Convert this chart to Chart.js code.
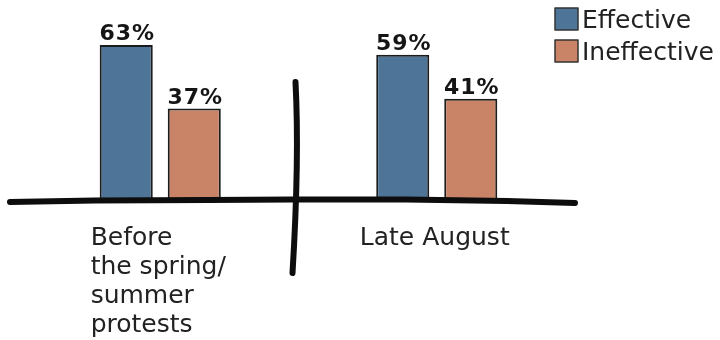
<!DOCTYPE html>
<html><head><meta charset="utf-8">
<script src="https://cdn.jsdelivr.net/npm/chart.js@4/dist/chart.umd.min.js"></script>
<style>html,body{margin:0;padding:0;background:#fff}#wrap{width:720px;height:340px;position:relative}</style>
</head><body><div id="wrap"><canvas id="c" width="720" height="340"></canvas></div>
<script>
const categories = [["Before", "the spring/", "summer", "protests"], ["Late August"]];
const seriesNames = ["Effective", "Ineffective"];
const effective = [63, 59];
const ineffective = [37, 41];
const valueSuffix = "%";
const seriesColors = ["#4e7597", "#c98468"];

const sketchPlugin = {
  id: 'sketch',
  afterDatasetsDraw(chart) {
    const { ctx, chartArea, scales: { x } } = chart;
    ctx.save();
    // value labels
    ctx.font = 'bold 22px "DejaVu Sans"';
    try { ctx.letterSpacing = '1px'; } catch (e) {}
    ctx.fillStyle = '#151515';
    ctx.textAlign = 'center';
    ctx.textBaseline = 'alphabetic';
    chart.data.datasets.forEach((ds, i) => {
      chart.getDatasetMeta(i).data.forEach((bar, j) => {
        ctx.fillText(ds.data[j] + valueSuffix, bar.x + 1, bar.y - 5);
      });
    });
    try { ctx.letterSpacing = '0px'; } catch (e) {}

    // hand-drawn baseline
    const yb = chartArea.bottom + 1;
    const L = chartArea.left - 12, R = chartArea.right;
    const w = R - L;
    const wob = [[0, 2], [0.15, 0.5], [0.35, 0], [0.5, -0.5], [0.7, -0.5], [0.88, 1], [1, 3]];
    ctx.strokeStyle = '#0d0d0d';
    ctx.lineWidth = 6;
    ctx.lineCap = 'round';
    ctx.lineJoin = 'round';
    ctx.beginPath();
    wob.forEach(([f, d], k) => {
      const px = L + f * w, py = yb + d;
      if (k === 0) ctx.moveTo(px, py); else ctx.lineTo(px, py);
    });
    ctx.stroke();

    // hand-drawn divider between categories
    const xm = (x.getPixelForValue(0) + x.getPixelForValue(1)) / 2 - 3;
    const top = chartArea.top + 54, bot = chartArea.bottom + 74;
    ctx.lineWidth = 6;
    ctx.beginPath();
    ctx.moveTo(xm, top);
    ctx.quadraticCurveTo(xm + 4, top + (bot - top) * 0.4, xm - 3, bot);
    ctx.stroke();

    // category labels (left-aligned blocks centred under each group)
    ctx.font = '25px "DejaVu Sans"';
    ctx.fillStyle = '#222';
    ctx.textAlign = 'left';
    const lh = 29;
    chart.data.labels.forEach((lab, i) => {
      const lines = Array.isArray(lab) ? lab : [lab];
      const cx = x.getPixelForValue(i);
      const mw = Math.max(...lines.map(s => ctx.measureText(s).width));
      const lx = cx - mw / 2 - 2;
      lines.forEach((s, k) => ctx.fillText(s, lx, chartArea.bottom + 46 + k * lh));
    });

    // legend
    const lgx = chart.width - 165, lgy = 8;
    chart.data.datasets.forEach((ds, i) => {
      const by = lgy + i * 32;
      ctx.fillStyle = ds.backgroundColor;
      ctx.fillRect(lgx, by, 23, 22);
      ctx.strokeStyle = '#333';
      ctx.lineWidth = 1.5;
      ctx.strokeRect(lgx, by, 23, 22);
      ctx.fillStyle = '#222';
      ctx.font = '25px "DejaVu Sans"';
      ctx.fillText(ds.label, lgx + 27, by + 20);
    });
    ctx.restore();
  }
};

new Chart(document.getElementById('c'), {
  type: 'bar',
  data: {
    labels: categories,
    datasets: [
      { label: seriesNames[0], data: effective, backgroundColor: seriesColors[0], borderColor: '#1c1c1c', borderWidth: 2 },
      { label: seriesNames[1], data: ineffective, backgroundColor: seriesColors[1], borderColor: '#1c1c1c', borderWidth: 2 }
    ]
  },
  options: {
    responsive: false,
    animation: false,
    devicePixelRatio: 1,
    layout: { padding: { left: 22, right: 145, top: 28, bottom: 141 } },
    datasets: { bar: { categoryPercentage: 0.492, barPercentage: 0.78 } },
    scales: {
      x: { display: false },
      y: { display: false, min: 0, max: 70 }
    },
    plugins: { legend: { display: false }, tooltip: { enabled: false } }
  },
  plugins: [sketchPlugin]
});
</script>
</body></html>
